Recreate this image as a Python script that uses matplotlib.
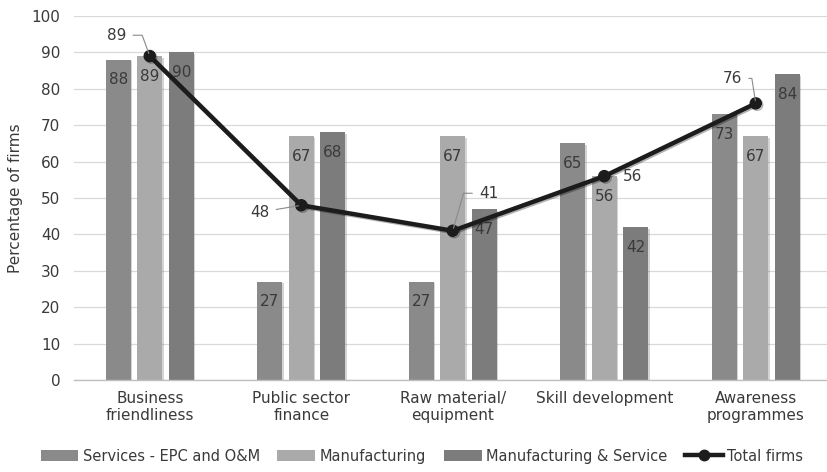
import numpy as np
import matplotlib
matplotlib.use('Agg')
import matplotlib.pyplot as plt
import matplotlib.patheffects as pe
from matplotlib.patches import Patch
from matplotlib.lines import Line2D

categories = ['Business\nfriendliness', 'Public sector\nfinance', 'Raw material/\nequipment',
              'Skill development', 'Awareness\nprogrammes']
services = [88, 27, 27, 65, 73]
manufacturing = [89, 67, 67, 56, 67]
manuf_service = [90, 68, 47, 42, 84]
total_firms = [89, 48, 41, 56, 76]

series_names = ['Services - EPC and O&M', 'Manufacturing', 'Manufacturing & Service']
series_colors = ['#8a8a8a', '#aaaaaa', '#7c7c7c']
text_color = '#3a3a3a'

# offsets (points) for the total-firms labels and the leader line style (None = no leader)
line_label_offsets = [(-24, 15), (-30, -5), (26, 27), (20, 0), (-17, 18)]
line_label_leaders = ['angle,angleA=0,angleB=110,rad=0', 'arc3', 'angle,angleA=180,angleB=74,rad=0',
                      None, 'angle,angleA=0,angleB=99,rad=0']

plt.rcParams['font.family'] = ['DejaVu Sans']
fs = 11

fig = plt.figure(figsize=(8.27, 4.72), dpi=100)
ax = fig.add_axes([0.0895, 0.195, 0.9105, 0.771])

x = np.arange(len(categories))
width = 0.165
step = 0.208
shadow = [pe.SimplePatchShadow(offset=(1.2, -1.2), alpha=0.25, shadow_rgbFace='#555555'), pe.Normal()]

for i, (vals, color) in enumerate(zip([services, manufacturing, manuf_service], series_colors)):
    pos = x + (i - 1) * step
    bars = ax.bar(pos, vals, width, color=color, zorder=2)
    for b in bars:
        b.set_path_effects(shadow)
    for p, v in zip(pos, vals):
        ax.annotate(str(v), (p, v), xytext=(0, -14.5), textcoords='offset points',
                    ha='center', va='center', fontsize=fs, color=text_color, zorder=3)

ax.plot(x, total_firms, color='#1c1c1c', lw=3.2, marker='o', markersize=8, zorder=4,
        path_effects=[pe.SimpleLineShadow(offset=(1, -1), alpha=0.3), pe.Normal()])

for xi, v, off, leader in zip(x, total_firms, line_label_offsets, line_label_leaders):
    arrow = None
    if leader:
        arrow = dict(arrowstyle='-', color='#8a8a8a', lw=0.8, shrinkA=3, shrinkB=2,
                     connectionstyle=leader)
    ax.annotate(str(v), (xi, v), xytext=off, textcoords='offset points',
                ha='center', va='center', fontsize=fs, color=text_color,
                arrowprops=arrow, zorder=5)

ax.set_ylim(0, 100)
ax.set_xlim(-0.5, 4.47)
ax.set_yticks(np.arange(0, 101, 10))
ax.set_xticks(x)
ax.set_xticklabels(categories, fontsize=fs, color=text_color)
ax.tick_params(axis='y', labelsize=fs, labelcolor=text_color, length=0, pad=10)
ax.tick_params(axis='x', length=0, pad=8)
ax.grid(axis='y', color='#d9d9d9', lw=0.9, zorder=0)
ax.set_axisbelow(True)
for s in ['top', 'right', 'left']:
    ax.spines[s].set_visible(False)
ax.spines['bottom'].set_color('#bfbfbf')
ax.spines['bottom'].set_linewidth(1.0)
ax.set_ylabel('Percentage of firms', fontsize=fs, color=text_color, labelpad=6)

handles = [Patch(facecolor=c, label=n) for c, n in zip(series_colors, series_names)]
handles.append(Line2D([0], [0], color='#1c1c1c', lw=3.2, marker='o', markersize=7.5, label='Total firms'))
fig.legend(handles=handles, loc='lower center', bbox_to_anchor=(0.51, -0.01), ncol=4, frameon=False,
           fontsize=10.5, handlelength=2.6, handletextpad=0.3, columnspacing=1.2, labelcolor=text_color)

fig.savefig('out.png', dpi=100)
